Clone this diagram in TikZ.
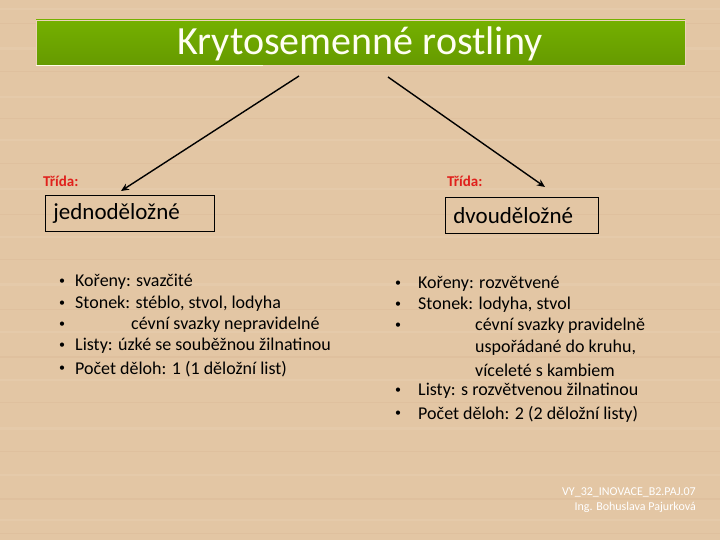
\documentclass[tikz,border=0pt]{standalone}
\usepackage{fontspec}
\setmainfont{Carlito}
\usetikzlibrary{arrows.meta}
\definecolor{wood}{HTML}{E3C6A4}
\definecolor{woodd}{HTML}{D9B793}
\definecolor{woodl}{HTML}{EBD3B7}
\definecolor{barg}{HTML}{74B000}
\definecolor{bargd}{HTML}{669A00}
\definecolor{redlab}{HTML}{E0201C}
\tikzset{
  lab/.style={anchor=west, text=redlab, font=\bfseries\fontsize{15}{17}\selectfont, inner sep=0pt},
  classbox/.style={draw=black, line width=0.8pt, anchor=north west, minimum height=36pt, inner sep=0pt, font=\fontsize{23}{25}\selectfont, text=black},
  bl/.style={anchor=west, inner sep=0pt, font=\fontsize{18}{20}\selectfont, text=black},
  bul/.style={anchor=center, inner sep=0pt, font=\fontsize{12}{14}\selectfont, text=black},
  conn/.style={draw=black, line width=1.4pt, -{Stealth[length=8pt,width=7pt]}},
  foot/.style={anchor=east, inner sep=0pt, text=white, font=\fontsize{12}{14}\selectfont}
}
\begin{document}
\begin{tikzpicture}[x=1pt,y=-1pt]
\useasboundingbox (0,0) rectangle (720,540);
\fill[wood] (0,0) rectangle (720,540);
\foreach \yy/\c/\w in {8/woodl/2,23/woodd/1,47/woodl/3,71/woodd/1.5,96/woodl/2,118/woodd/1,139/woodl/2.5,163/woodd/1,188/woodl/2,214/woodd/1.5,236/woodl/2,259/woodd/1,283/woodl/3,309/woodd/1,331/woodl/2,356/woodd/1.5,379/woodl/2,402/woodd/1,427/woodl/2.5,451/woodd/1,474/woodl/2,498/woodd/1.5,519/woodl/2,533/woodd/1}
  \fill[\c, opacity=0.35] (0,\yy) rectangle (720,\yy+\w);
\shade[top color=barg, bottom color=bargd] (36,20) rectangle (685,65);
\draw[woodl, line width=0.8pt] (36,20) rectangle (685,65);
\draw[white!90!yellow, line width=1pt] (36,66) -- (263,66);
\node[text=white!95!yellow, font=\fontsize{40}{44}\selectfont, inner sep=0pt] (title) at (360,44) {Krytosemenné rostliny};
\coordinate (ls) at (299,76);
\coordinate (rs) at (388,77);
\node[lab] (tl) at (43,181) {Třída:};
\node[lab] (tr) at (447,181) {Třída:};
\node[classbox, minimum width=169pt, text width=165pt, align=left] (jed) at (45,195) {\hspace*{6pt}jednoděložné};
\node[classbox, minimum width=153pt, text width=149pt, align=left] (dvo) at (445,197) {\hspace*{6pt}dvouděložné};
\coordinate (lt) at (121,191);
\coordinate (rt) at (545,187);
\draw[conn] (ls) -- (lt);
\draw[conn] (rs) -- (rt);
% left list
\foreach \y in {282,304,325,346,369} \node[bul] at (62,\y) {•};
\node[bl] (l1) at (75,282) {Kořeny: svazčité};
\node[bl] (l2) at (75,304) {Stonek: stéblo, stvol, lodyha};
\node[bl] (l3) at (131,325) {cévní svazky nepravidelné};
\node[bl] (l4) at (75,346) {Listy: úzké se souběžnou žilnatinou};
\node[bl] (l5) at (75,369) {Počet děloh: 1 (1 děložní list)};
% right list
\foreach \y in {284,305,326,391,414} \node[bul] at (398,\y) {•};
\node[bl] (r1) at (418,284) {Kořeny: rozvětvené};
\node[bl] (r2) at (418,305) {Stonek: lodyha, stvol};
\node[bl] (r3) at (475,326) {cévní svazky pravidelně};
\node[bl] (r4) at (475,348) {uspořádané do kruhu,};
\node[bl] (r5) at (475,370) {víceleté s kambiem};
\node[bl] (r6) at (418,391) {Listy: s rozvětvenou žilnatinou};
\node[bl] (r7) at (418,414) {Počet děloh: 2 (2 děložní listy)};
\node[foot] (f1) at (696,492) {VY\_32\_INOVACE\_B2.PAJ.07};
\node[foot] (f2) at (696,507) {Ing. Bohuslava Pajurková};
\end{tikzpicture}
\end{document}
